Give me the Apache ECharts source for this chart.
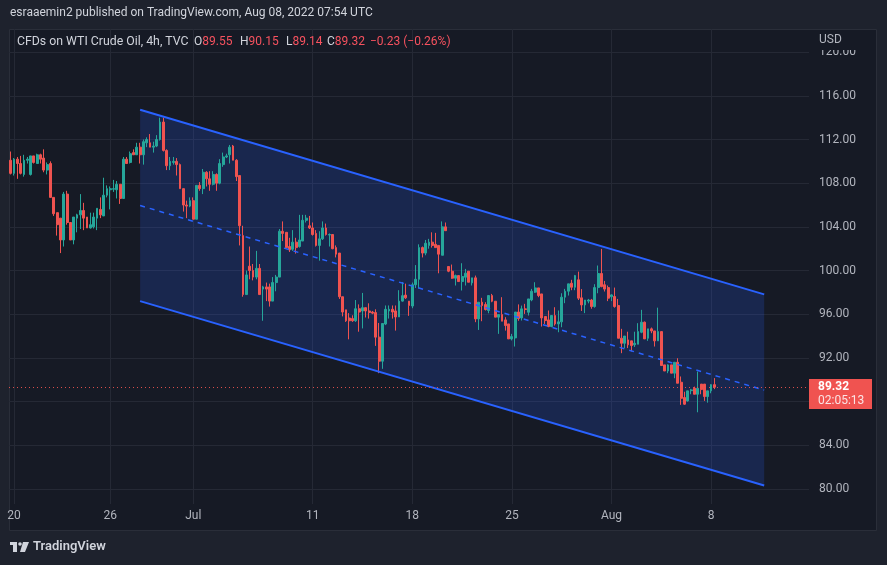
<!DOCTYPE html>
<html><head><meta charset="utf-8">
<script src="https://cdn.jsdelivr.net/npm/echarts@6/dist/echarts.min.js"></script>
<style>html,body{margin:0;padding:0;background:#1e222d;}#c{width:887px;height:565px;}</style>
</head><body><div id="c"></div>
<script>
// ---- data (4h bars, TVC:USOIL CFD) ----
const opens = [
110.1,108.9,110.2,109.8,108.8,110.1,108.8,110.5,109.8,110.6,
110.3,109.2,109.8,106.7,105.3,104.8,102.8,107.0,104.4,102.8,
104.8,105.1,105.5,104.9,103.9,104.0,104.8,105.6,105.0,106.9,
107.4,107.45,107.4,107.9,106.6,110.2,109.9,110.8,110.6,111.3,
110.6,111.7,111.7,111.3,111.4,112.0,113.6,111.0,109.6,109.9,
110.0,109.7,107.5,106.0,105.9,106.4,104.7,107.8,107.5,109.0,
108.4,107.9,108.8,108.0,109.7,110.4,110.6,111.4,110.1,108.7,
103.2,97.8,100.4,100.0,99.4,100.2,98.3,98.5,98.5,97.2,
98.9,99.4,103.6,103.5,102.2,101.95,102.6,102.2,102.7,104.6,
104.1,103.9,103.4,102.3,102.9,103.9,103.25,103.3,102.1,101.6,
97.6,96.4,95.65,95.6,95.4,96.5,96.3,96.6,96.3,96.2,
96.15,93.9,91.7,95.1,96.3,96.45,96.3,95.75,97.2,97.75,
97.2,96.75,98.7,99.2,102.1,101.6,102.3,102.6,102.4,102.3,
101.4,104.0,100.37,99.94,99.30,99.54,98.99,99.39,99.94,98.87,
99.33,95.57,97.10,96.89,96.34,97.71,97.19,95.73,95.97,95.48,
95.11,93.74,93.83,96.2,95.66,96.49,96.18,97.31,98.02,98.41,
97.86,95.79,95.48,94.87,95.88,95.11,95.3,97.56,98.11,98.84,
98.47,99.15,97.5,96.85,97.2,97.3,96.7,98.44,99.73,98.7,
98.44,97.6,97.62,96.8,93.8,93.34,93.65,93.56,93.2,93.25,
94.35,95.27,93.8,94.66,94.47,93.56,94.41,91.36,90.8,91.36,
90.6,91.6,89.77,88.37,88.06,89.0,89.22,88.67,89.6,89.6,
88.46,88.98,89.55];
const highs = [
110.9,110.3,110.4,110.5,110.6,110.4,110.5,110.5,110.7,110.7,
111.1,109.9,110.0,106.7,105.3,104.8,107.2,107.3,104.4,104.9,
105.2,107.0,106.2,104.9,105.3,105.3,105.7,106.7,108.5,107.8,
107.7,108.3,108.2,107.9,110.4,110.4,110.9,111.1,111.7,111.7,
112.0,112.2,112.5,111.8,112.4,114.0,114.0,111.1,110.4,110.4,
110.3,109.8,107.5,106.4,106.7,106.7,107.8,108.1,109.3,109.1,
109.1,109.1,108.9,110.2,110.8,110.7,111.5,111.5,110.2,108.7,
104.1,100.0,102.2,100.6,101.8,100.6,98.6,98.9,98.8,99.4,
99.6,103.8,104.5,103.5,103.0,103.7,103.0,105.1,105.1,105.1,
105.0,104.4,103.7,103.6,104.5,104.3,103.4,103.3,102.3,101.6,
97.6,96.4,96.1,95.9,97.3,96.9,97.95,96.6,97.0,96.3,
96.45,95.2,95.15,96.8,96.8,96.8,96.8,98.2,98.95,98.8,
97.2,98.9,100.5,102.4,102.2,102.8,102.9,103.5,103.45,102.3,
104.5,104.4,100.37,100.55,99.63,99.54,100.67,100.15,99.94,99.33,
99.54,97.10,97.50,97.10,97.71,97.86,97.19,95.97,97.56,95.73,
95.11,94.2,96.2,96.9,96.79,96.95,97.40,98.32,98.93,98.41,
97.86,95.79,96.34,95.88,96.64,96.34,97.92,98.32,98.78,99.15,
99.6,99.9,98.3,97.3,97.4,97.4,98.75,100.46,101.98,99.05,
98.63,97.83,98.44,97.4,94.66,94.0,94.4,93.56,94.4,95.18,
96.4,95.33,94.66,94.78,94.47,96.6,94.41,91.36,91.42,91.36,
91.6,91.97,90.3,88.9,88.98,89.16,89.37,90.75,89.6,89.6,
88.98,89.6,90.15];
const lows = [
108.8,108.7,108.4,108.8,108.6,109.8,108.7,109.8,109.8,109.8,
109.0,108.8,106.7,105.0,103.2,101.6,102.2,104.2,102.8,102.4,
103.5,103.8,103.7,103.9,103.85,103.85,103.7,104.8,105.0,106.7,
105.6,107.2,106.6,106.1,106.6,109.8,109.8,110.6,110.6,109.8,
109.7,111.3,111.3,110.8,111.3,111.9,110.9,109.2,109.2,109.7,
108.7,107.5,105.4,104.8,105.8,104.7,104.7,107.3,107.0,107.7,
107.3,107.8,107.3,107.9,109.5,110.3,109.8,110.1,108.2,102.3,
97.6,97.8,99.2,99.1,99.2,97.8,95.4,97.2,96.7,97.2,
98.1,99.4,102.7,102.0,101.7,101.8,101.55,102.1,102.7,104.4,
103.8,103.2,102.2,100.9,102.8,103.2,102.2,101.95,101.2,97.4,
95.8,95.3,93.7,95.3,95.3,94.4,94.7,95.7,95.6,96.0,
93.1,90.6,91.0,95.0,95.6,95.6,94.5,95.75,97.15,97.4,
95.85,96.55,98.4,98.35,101.2,101.4,102.0,102.1,102.1,99.75,
101.4,103.65,99.85,99.24,98.63,98.99,98.17,98.63,98.93,98.63,
95.27,94.56,95.36,96.34,96.09,97.10,95.73,94.2,95.36,94.5,
93.74,93.6,93.04,95.4,95.42,96.03,95.88,97.19,97.95,97.56,
94.87,95.11,94.81,94.81,94.96,94.35,94.81,97.01,97.71,98.2,
98.2,97.3,96.3,96.1,97.0,96.5,96.6,97.92,98.47,98.08,
97.2,97.2,96.6,93.8,92.43,92.9,92.9,92.6,93.0,93.25,
94.26,93.74,93.56,94.26,93.04,93.56,91.3,90.8,90.6,90.6,
90.14,89.68,87.7,87.7,88.0,88.67,88.67,87.02,88.67,88.06,
87.9,88.76,89.14];
const closes = [
108.9,110.2,109.8,108.9,110.1,110.2,110.5,109.9,110.6,110.2,
109.2,109.7,106.7,105.2,104.2,102.8,107.0,104.4,102.8,104.9,
105.1,105.5,104.8,103.9,104.2,104.9,105.7,105.1,106.9,107.5,
107.5,107.5,107.9,106.6,110.2,109.8,110.7,110.6,111.3,110.6,
111.8,112.0,111.3,111.4,112.0,113.6,111.0,109.6,110.0,110.0,
109.7,107.5,106.0,105.9,106.4,104.7,107.8,107.5,109.0,108.4,
107.9,108.8,108.0,109.8,110.4,110.5,111.3,110.1,108.6,104.1,
97.8,99.6,100.0,99.4,100.2,97.8,98.5,98.3,97.2,98.9,
99.4,103.6,103.4,102.1,101.9,102.6,102.1,102.8,104.6,104.8,
103.9,103.3,102.3,102.9,103.9,103.3,103.3,102.0,101.5,97.6,
96.2,95.4,95.4,95.4,96.5,96.2,96.6,96.3,96.15,96.1,
93.9,91.7,95.15,96.45,96.45,96.2,95.75,97.2,97.7,97.5,
96.8,98.7,99.2,102.1,101.6,102.5,102.6,102.3,102.1,101.5,
104.0,103.65,99.94,99.30,99.54,98.99,99.45,99.76,98.93,99.33,
95.57,97.10,96.79,96.43,97.71,97.19,95.73,95.97,95.36,94.96,
93.74,93.95,96.2,95.6,96.49,96.43,97.40,98.11,98.41,97.71,
95.66,95.42,94.87,95.88,95.11,95.3,97.56,98.11,98.78,98.47,
99.54,97.47,96.85,97.3,97.3,96.7,98.44,99.73,98.53,98.3,
97.47,97.77,96.7,93.8,93.34,94.0,93.2,93.13,93.34,94.41,
95.27,93.74,94.66,94.47,93.56,94.41,91.3,90.8,91.36,90.6,
91.6,89.68,88.3,87.76,88.98,89.07,88.67,89.22,89.1,88.46,
88.98,89.55,89.32];

const totalBars = 241;                       // bars incl. empty future space
const timeTickIndex = [1, 30, 55, 91, 121, 151, 181, 211];
const timeTickLabels = ['20', '26', 'Jul', '11', '18', '25', 'Aug', '8'];
const priceTicks = [80, 84, 88, 92, 96, 100, 104, 108, 112, 116, 120];
const priceMin = 78.62, priceMax = 122.12;

// parallel channel drawing (bar index, price)
const channelBars = [39, 227];
const channelUpper = [114.72, 97.82];
const channelMid = [105.95, 89.05];
const channelLower = [97.20, 80.32];

const countdown = '02:05:13';
const headerText = 'esraaemin2 published on TradingView.com, Aug 08, 2022 07:54 UTC';
const symbolText = 'CFDs on WTI Crude Oil, 4h, TVC';

// ---- build ----
const FONT = 'Roboto, "Liberation Sans", sans-serif';
const UP = '#26a69a', DOWN = '#ef5350', GRID = '#252935', TXT = '#b2b5be';
const PANE = '#161a25';
const last = closes.length - 1;
const categories = Array.from({length: totalBars}, (_, i) => 'b' + i);
const labelMap = {};
timeTickIndex.forEach((k, j) => { labelMap[k] = timeTickLabels[j]; });
const candleData = opens.map((o, i) => [o, closes[i], lows[i], highs[i]]);
const lastClose = closes[last];
const change = lastClose - closes[last - 1];
const changePct = change / closes[last - 1] * 100;
const fmtSigned = v => (v < 0 ? '\u2212' : '+') + Math.abs(v).toFixed(2);

const chart = echarts.init(document.getElementById('c'), null, {renderer: 'canvas'});
const isTick = (i) => labelMap[i] !== undefined;

chart.setOption({
  animation: false,
  backgroundColor: '#1e222d',
  textStyle: {fontFamily: FONT},
  grid: {left: 9, right: 78, top: 29, bottom: 61, containLabel: false, outerBoundsMode: 'none'},
  xAxis: {
    type: 'category', data: categories, boundaryGap: true,
    axisLine: {show: false}, axisTick: {show: false},
    axisLabel: {interval: isTick, formatter: (v, i) => labelMap[i] || '', color: TXT, fontSize: 12, margin: 6, fontFamily: FONT},
    splitLine: {show: true, interval: isTick, alignWithLabel: true, lineStyle: {color: GRID, width: 1}}
  },
  yAxis: {
    type: 'value', position: 'right', min: priceMin, max: priceMax,
    axisLine: {show: false},
    axisTick: {show: false, customValues: priceTicks},
    axisLabel: {customValues: priceTicks, formatter: v => v.toFixed(2), color: TXT, fontSize: 12, margin: 10, fontFamily: FONT},
    splitLine: {show: true, lineStyle: {color: GRID, width: 1}}
  },
  series: [
    {
      type: 'custom', silent: true, z: 1,
      data: [[channelBars[0], channelBars[1], channelUpper[0], channelUpper[1], channelLower[1], channelLower[0]]],
      encode: {x: [0, 1], y: [2, 3, 4, 5]},
      renderItem: (params, api) => {
        const a = api.coord([api.value(0), api.value(2)]);
        const b = api.coord([api.value(1), api.value(3)]);
        const c = api.coord([api.value(1), api.value(4)]);
        const d = api.coord([api.value(0), api.value(5)]);
        return {type: 'polygon', shape: {points: [a, b, c, d]}, style: {fill: 'rgba(41,98,255,0.19)'}};
      }
    },
    {
      type: 'candlestick', z: 3, barWidth: '70%',
      data: candleData,
      itemStyle: {color: UP, color0: DOWN, borderColor: UP, borderColor0: DOWN, borderWidth: 1},
      markLine: {
        silent: true, symbol: ['none', 'none'], animation: false,
        label: {show: false},
        lineStyle: {color: DOWN, type: [1, 3], width: 1, opacity: 0.9},
        data: [{yAxis: lastClose}]
      }
    },
    {
      type: 'line', z: 4, silent: true, symbol: 'none',
      data: [[channelBars[0], channelUpper[0]], [channelBars[1], channelUpper[1]]],
      lineStyle: {color: '#2962ff', width: 2}
    },
    {
      type: 'line', z: 4, silent: true, symbol: 'none',
      data: [[channelBars[0], channelLower[0]], [channelBars[1], channelLower[1]]],
      lineStyle: {color: '#2962ff', width: 2}
    },
    {
      type: 'line', z: 4, silent: true, symbol: 'none',
      data: [[channelBars[0], channelMid[0]], [channelBars[1], channelMid[1]]],
      lineStyle: {color: '#2962ff', width: 1.5, type: [5, 5]}
    }
  ]
});

const py = chart.convertToPixel({yAxisIndex: 0}, lastClose);
chart.setOption({
  graphic: [
    {type: 'rect', z: -100, silent: true, shape: {x: 9.5, y: 29.5, width: 867, height: 501}, style: {fill: PANE, stroke: '#2a2e39', lineWidth: 1}},
    {type: 'text', z: 100, left: 10, top: 7, style: {text: headerText, fill: '#d1d4dc', font: '12px ' + FONT}},
    {type: 'rect', z: 100, silent: true, shape: {x: 810, y: 30, width: 66, height: 20}, style: {fill: PANE}},
    {type: 'text', z: 101, x: 819, y: 40, style: {text: 'USD', fill: TXT, font: '12px ' + FONT, verticalAlign: 'middle'}},
    {type: 'text', z: 101, x: 17, y: 42, style: {text: symbolText, fill: '#d1d4dc', font: '12.3px ' + FONT, verticalAlign: 'middle'}},
    {type: 'text', z: 101, x: 194, y: 42, style: {rich: {g: {fill: '#d1d4dc', font: '12px ' + FONT}, r: {fill: '#f7525f', font: '12px ' + FONT}}, text: '{g|O}{r|' + opens[last].toFixed(2) + '}', verticalAlign: 'middle'}},
    {type: 'text', z: 101, x: 240, y: 42, style: {rich: {g: {fill: '#d1d4dc', font: '12px ' + FONT}, r: {fill: '#f7525f', font: '12px ' + FONT}}, text: '{g|H}{r|' + highs[last].toFixed(2) + '}', verticalAlign: 'middle'}},
    {type: 'text', z: 101, x: 286, y: 42, style: {rich: {g: {fill: '#d1d4dc', font: '12px ' + FONT}, r: {fill: '#f7525f', font: '12px ' + FONT}}, text: '{g|L}{r|' + lows[last].toFixed(2) + '}', verticalAlign: 'middle'}},
    {type: 'text', z: 101, x: 327, y: 42, style: {rich: {g: {fill: '#d1d4dc', font: '12px ' + FONT}, r: {fill: '#f7525f', font: '12px ' + FONT}}, text: '{g|C}{r|' + lastClose.toFixed(2) + '}', verticalAlign: 'middle'}},
    {type: 'text', z: 101, x: 370, y: 42, style: {text: fmtSigned(change) + ' (' + fmtSigned(changePct) + '%)', fill: '#f7525f', font: '12px ' + FONT, verticalAlign: 'middle'}},
    {type: 'rect', z: 102, shape: {x: 809, y: Math.round(py) - 8, width: 63, height: 30}, style: {fill: '#f05350'}},
    {type: 'text', z: 103, x: 818, y: py, style: {text: lastClose.toFixed(2), fill: '#ffffff', font: 'bold 12px ' + FONT, verticalAlign: 'middle'}},
    {type: 'text', z: 103, x: 818, y: py + 14, style: {text: countdown, fill: '#fbe3e4', font: '12px ' + FONT, verticalAlign: 'middle'}},
    {type: 'rect', z: 100, shape: {x: 10, y: 542, width: 7, height: 3}, style: {fill: '#d1d4dc'}},
    {type: 'rect', z: 100, shape: {x: 13, y: 542, width: 4, height: 10}, style: {fill: '#d1d4dc'}},
    {type: 'circle', z: 100, shape: {cx: 20, cy: 544, r: 1.8}, style: {fill: '#d1d4dc'}},
    {type: 'polygon', z: 100, shape: {points: [[23, 542], [29, 542], [25, 552], [20, 552]]}, style: {fill: '#d1d4dc'}},
    {type: 'text', z: 100, x: 33, y: 547, style: {text: 'TradingView', fill: '#d1d4dc', font: '600 13px ' + FONT, verticalAlign: 'middle'}}
  ]
});
</script></body></html>
